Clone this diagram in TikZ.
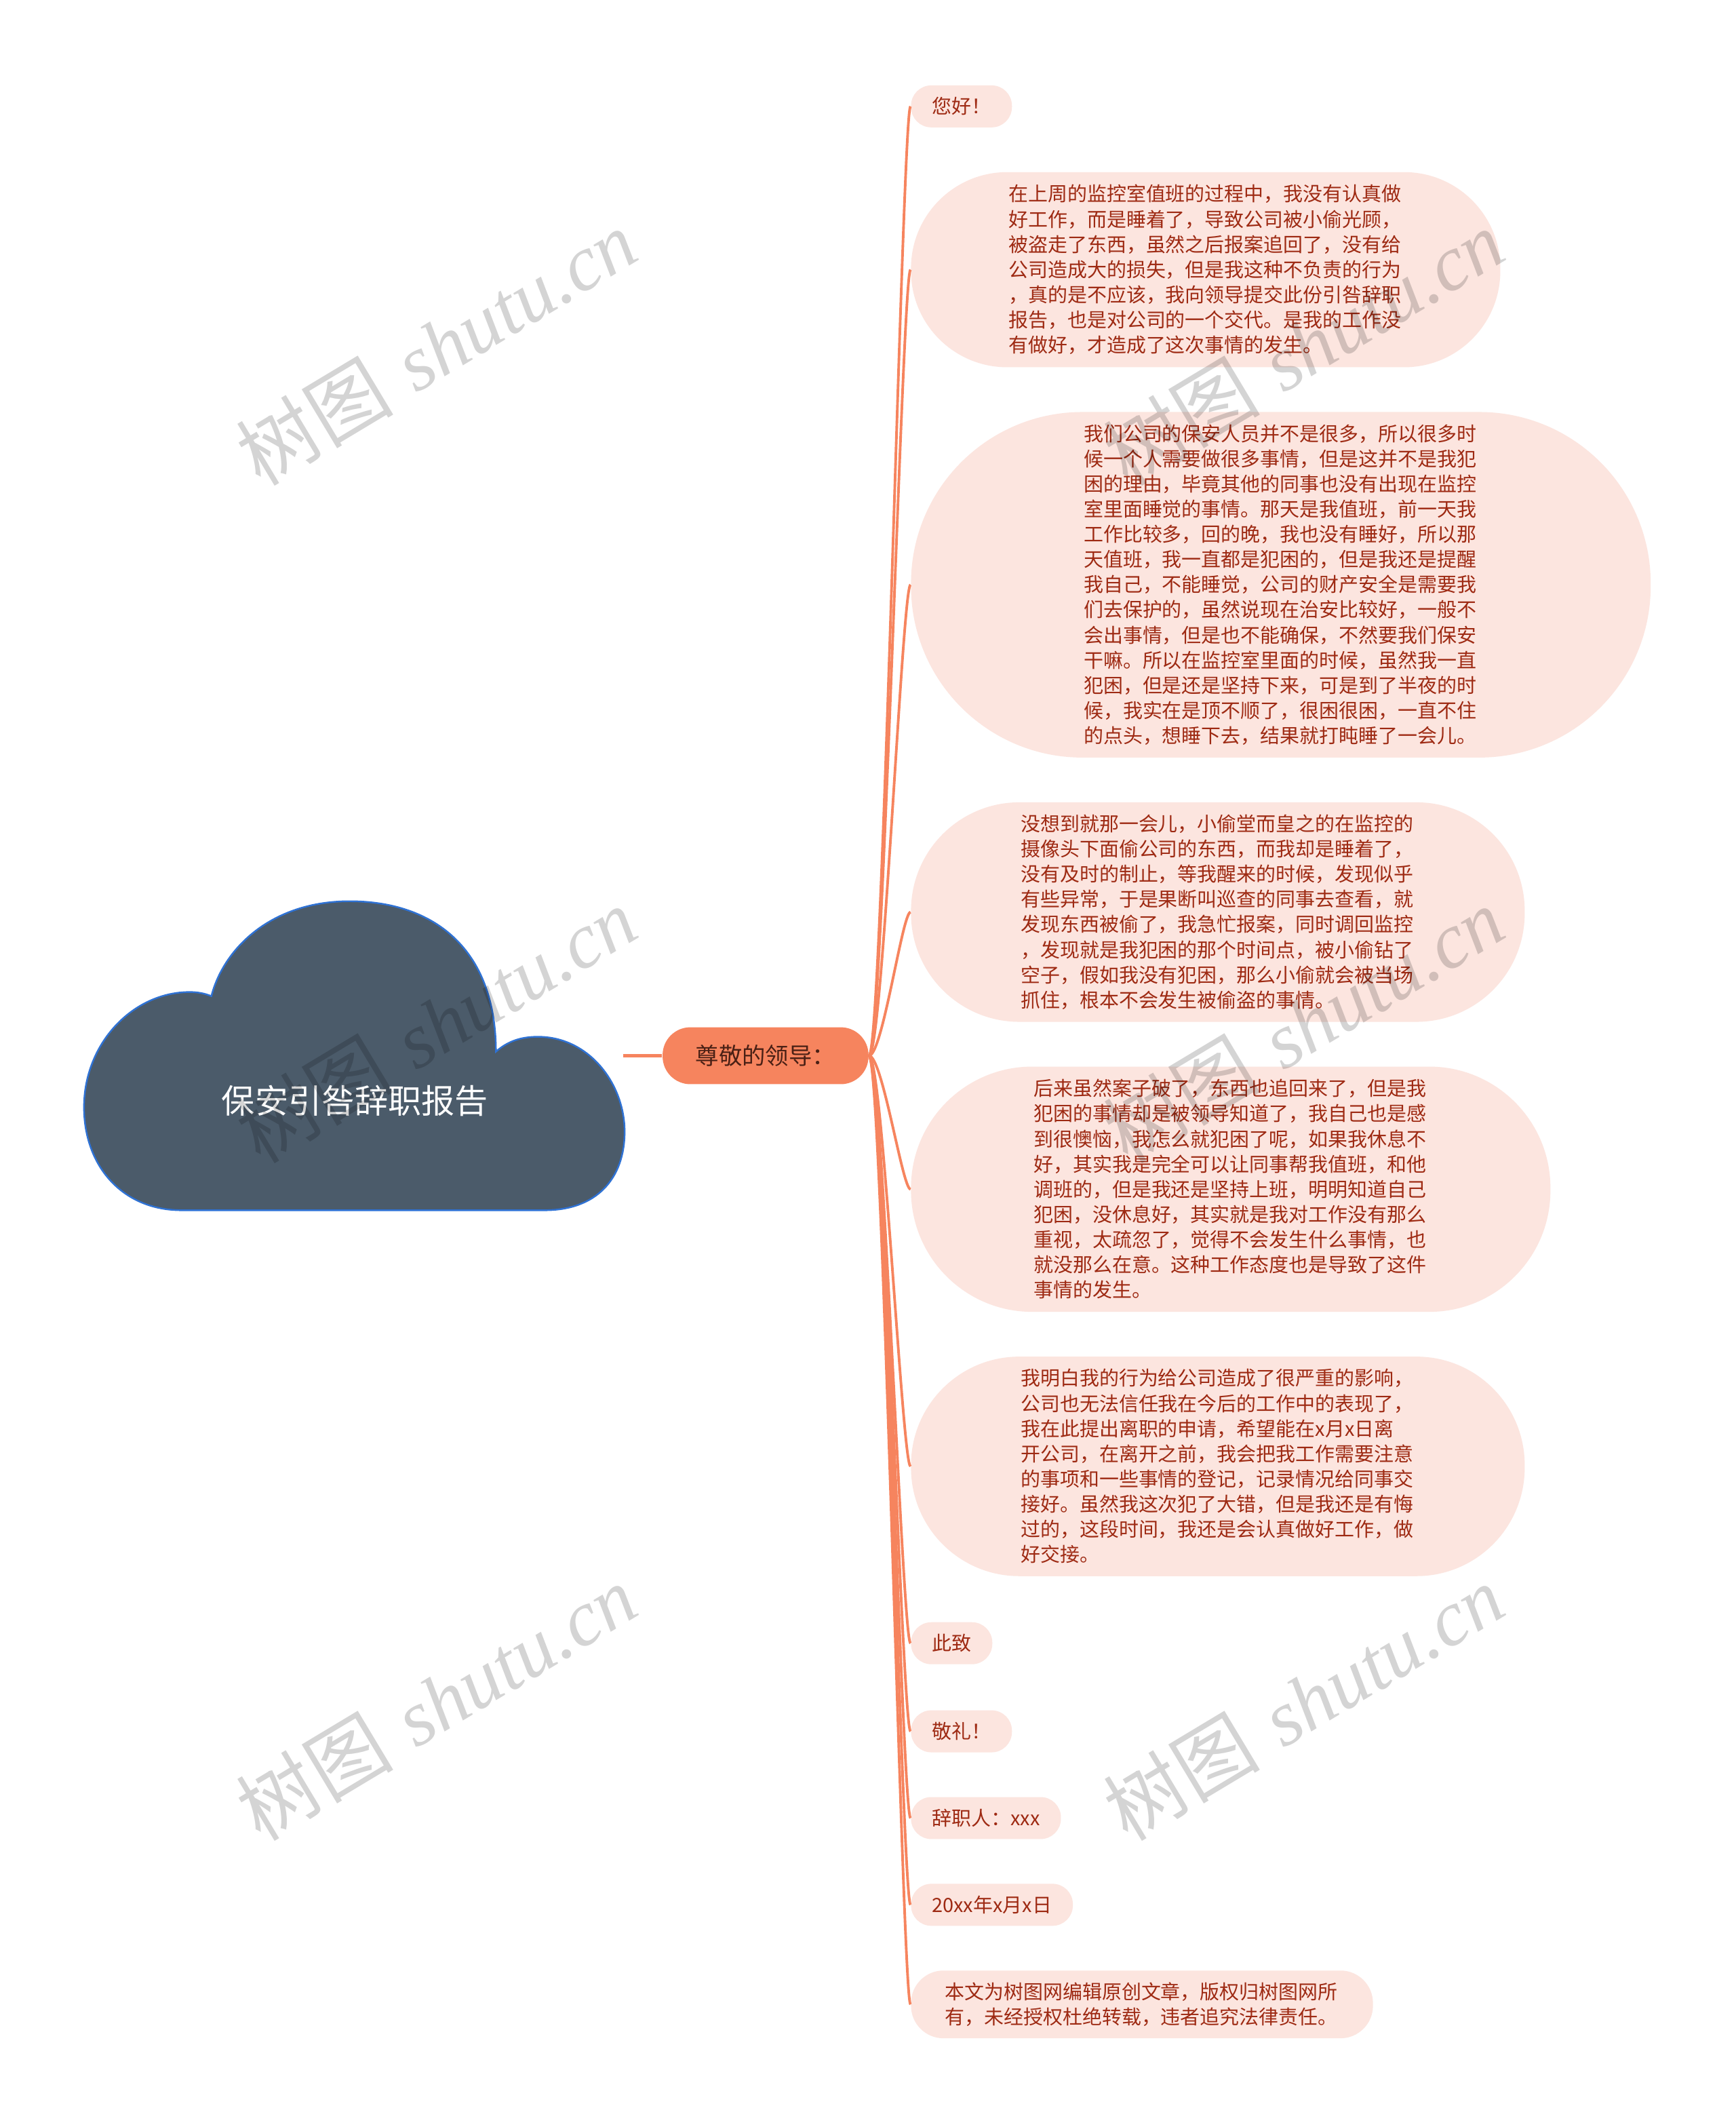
\documentclass[tikz,border=0pt]{standalone}
\usepackage{fontspec}
\newfontfamily\cjk{Noto Sans CJK SC}
\newfontfamily\wmlatin{Liberation Serif}
\usetikzlibrary{positioning}
\definecolor{coral}{HTML}{F6845E}
\definecolor{leafpink}{HTML}{FCE5DF}
\definecolor{leafink}{HTML}{9E2A13}
\definecolor{cloudfill}{HTML}{4B5B6A}
\definecolor{cloudline}{HTML}{2F72D4}
\definecolor{greetink}{HTML}{4A2015}

\begin{document}
\begin{tikzpicture}[x=0.02cm, y=-0.02cm,
    leaf/.style={rectangle, fill=leafpink, text=leafink, anchor=west,
      font=\cjk\fontsize{8.25pt}{10.58pt}\selectfont,
      minimum height=0.62cm, inner ysep=0pt, inner xsep=0.31cm, rounded corners=0.3cm},
    para/.style={leaf, align=left, text width=5.82cm,
      minimum height=#1, inner xsep=#1/2, rounded corners=#1/2-0.02cm},
    greet/.style={rectangle, fill=coral, text=greetink, inner sep=0pt,
      font=\cjk\fontsize{9.8pt}{11pt}\selectfont,
      minimum width=3.04cm, minimum height=0.84cm, rounded corners=0.41cm},
    title/.style={text=white, inner sep=0pt, font=\cjk\fontsize{14pt}{16pt}\selectfont},
    trunk/.style={draw=coral, line width=1.3pt},
    branch/.style={draw=coral, line width=1.1pt},
    watermark/.style={text=black, text opacity=0.17, rotate=31, inner sep=0pt,
      font=\fontsize{33pt}{33pt}\selectfont}]

    % page
    \fill[white] (0,0) rectangle (1281,1568);
    \useasboundingbox (0,0) rectangle (1281,1568);

    % cloud
    \filldraw[fill=cloudfill, draw=cloudline, line width=0.7pt]
      (134,893) -- (402,893)
      .. controls (440,893) and (461,870) .. (461,835)
      .. controls (461,800) and (435,765) .. (397,765)
      .. controls (385,765) and (375,768) .. (366,776)
      .. controls (366,700) and (320,665) .. (258,665)
      .. controls (200,665) and (165,700) .. (156,735)
      .. controls (151,733) and (146,732) .. (140,732)
      .. controls (98,732) and (62,770) .. (62,817)
      .. controls (62,860) and (90,893) .. (134,893) -- cycle;
    \node[title] (report) at (262,812) {保安引咎辞职报告};
    \coordinate (cloudeast) at (460,779);

    % main topic
    \node[greet] (greet) at (565,779) {尊敬的领导：};

    % leaves
    \node[leaf] (hello) at (672,78.5) {您好！};
    \node[para=2.88cm] (p1) at (672,199) {在上周的监控室值班的过程中，我没有认真做\\
      好工作，而是睡着了，导致公司被小偷光顾，\\
      被盗走了东西，虽然之后报案追回了，没有给\\
      公司造成大的损失，但是我这种不负责的行为\\
      ，真的是不应该，我向领导提交此份引咎辞职\\
      报告，也是对公司的一个交代。是我的工作没\\
      有做好，才造成了这次事情的发生。};
    \node[para=5.10cm] (p2) at (672,431.5) {我们公司的保安人员并不是很多，所以很多时\\
      候一个人需要做很多事情，但是这并不是我犯\\
      困的理由，毕竟其他的同事也没有出现在监控\\
      室里面睡觉的事情。那天是我值班，前一天我\\
      工作比较多，回的晚，我也没有睡好，所以那\\
      天值班，我一直都是犯困的，但是我还是提醒\\
      我自己，不能睡觉，公司的财产安全是需要我\\
      们去保护的，虽然说现在治安比较好，一般不\\
      会出事情，但是也不能确保，不然要我们保安\\
      干嘛。所以在监控室里面的时候，虽然我一直\\
      犯困，但是还是坚持下来，可是到了半夜的时\\
      候，我实在是顶不顺了，很困很困，一直不住\\
      的点头，想睡下去，结果就打盹睡了一会儿。};
    \node[para=3.24cm] (p3) at (672,673) {没想到就那一会儿，小偷堂而皇之的在监控的\\
      摄像头下面偷公司的东西，而我却是睡着了，\\
      没有及时的制止，等我醒来的时候，发现似乎\\
      有些异常，于是果断叫巡查的同事去查看，就\\
      发现东西被偷了，我急忙报案，同时调回监控\\
      ，发现就是我犯困的那个时间点，被小偷钻了\\
      空子，假如我没有犯困，那么小偷就会被当场\\
      抓住，根本不会发生被偷盗的事情。};
    \node[para=3.62cm] (p4) at (672,877.5) {后来虽然案子破了，东西也追回来了，但是我\\
      犯困的事情却是被领导知道了，我自己也是感\\
      到很懊恼，我怎么就犯困了呢，如果我休息不\\
      好，其实我是完全可以让同事帮我值班，和他\\
      调班的，但是我还是坚持上班，明明知道自己\\
      犯困，没休息好，其实就是我对工作没有那么\\
      重视，太疏忽了，觉得不会发生什么事情，也\\
      就没那么在意。这种工作态度也是导致了这件\\
      事情的发生。};
    \node[para=3.24cm] (p5) at (672,1082) {我明白我的行为给公司造成了很严重的影响，\\
      公司也无法信任我在今后的工作中的表现了，\\
      我在此提出离职的申请，希望能在x月x日离\\
      开公司，在离开之前，我会把我工作需要注意\\
      的事项和一些事情的登记，记录情况给同事交\\
      接好。虽然我这次犯了大错，但是我还是有悔\\
      过的，这段时间，我还是会认真做好工作，做\\
      好交接。};
    \node[leaf] (zhici) at (672,1212.5) {此致};
    \node[leaf] (jingli) at (672,1277.5) {敬礼！};
    \node[leaf] (signer) at (672,1341.5) {辞职人：xxx};
    \node[leaf] (date) at (672,1405.5) {20xx年x月x日};
    \node[para=1.0cm] (note) at (672,1479) {本文为树图网编辑原创文章，版权归树图网所\\
      有，未经授权杜绝转载，违者追究法律责任。};

    % connectors
    \draw[trunk] (cloudeast) -- (greet);
    \foreach \leaf in {hello,p1,p2,p3,p4,p5,zhici,jingli,signer,date,note}
      \draw[branch] (greet.east) .. controls +(10,0) and +(-6,0) .. (\leaf.west);

    % watermarks
    \foreach \wx/\wy [count=\i] in {322/256, 962/256, 322/756, 962/756, 322/1256, 962/1256}
      \node[watermark] (wm\i) at (\wx,\wy) {{\cjk 树图} {\wmlatin\itshape shutu.cn}};
\end{tikzpicture}
\end{document}
